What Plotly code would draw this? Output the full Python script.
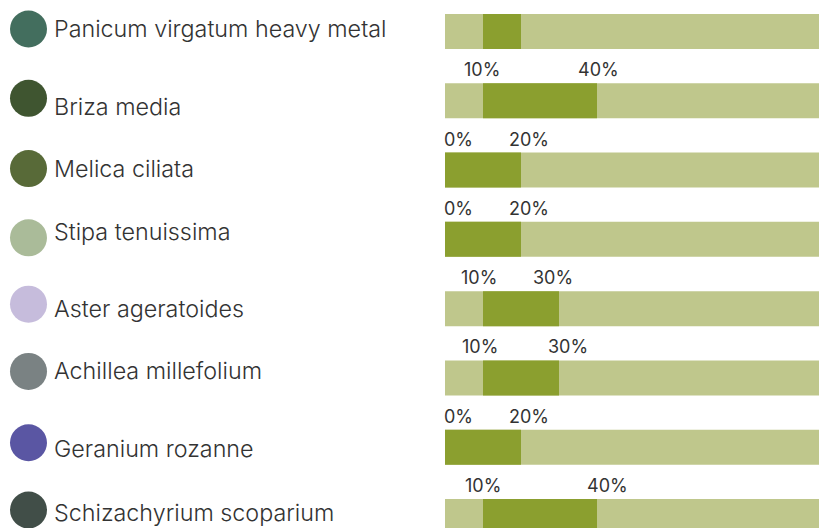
import plotly.graph_objects as go

# ---- data ----
plants = ["Panicum virgatum heavy metal", "Briza media", "Melica ciliata",
          "Stipa tenuissima", "Aster ageratoides", "Achillea millefolium",
          "Geranium rozanne", "Schizachyrium scoparium"]
range_start = [10, 10, 0, 0, 10, 10, 0, 10]
range_end = [20, 40, 20, 20, 30, 30, 20, 40]
start_labels = ["10%", "10%", "0%", "0%", "10%", "10%", "0%", "10%"]
end_labels = ["20%", "40%", "20%", "20%", "30%", "30%", "20%", "40%"]
show_labels = [False, True, True, True, True, True, True, True]
track_max = 100
plant_colors = ["#436E5E", "#3F5530", "#586A38", "#AABB99",
                "#C6BCDC", "#7A8283", "#5A56A3", "#414E48"]

# ---- style ----
W, H = 819, 528
LIGHT = "#BFC78C"
DARK = "#8B9F2F"
TEXT = "#333333"
FONT = "Inter"
n = len(plants)
idx = list(range(n))
row_px = 69.29
first_px = 31.5
y_range = [(H - first_px) / row_px, -first_px / row_px]
bar_x0 = 445
px_per_pct = 3.8
# small per-row pixel nudges seen in the original layout
circle_dy = [-2.5, -2.5, -1.5, -1.5, -4.5, -6.5, -4.5, -6.5]
name_dy = [-2.5, 6.5, -1.5, -7.5, 0.5, -6.5, 1.5, -3.5]
start_dx = [0, -0.5, -3, -3, -3.5, -3, -3, 0]
end_dx = [0, 1, 8, 8, -6, 9, 8, 10]

fig = go.Figure()
# track bars
fig.add_trace(go.Bar(y=idx, x=[track_max] * n, orientation="h",
                     marker=dict(color=LIGHT, line=dict(width=0)),
                     width=35 / row_px, hoverinfo="skip", showlegend=False))
# range segments
fig.add_trace(go.Bar(y=idx, x=[e - s for s, e in zip(range_start, range_end)],
                     base=range_start, orientation="h",
                     marker=dict(color=DARK, line=dict(width=0)),
                     width=35 / row_px, hoverinfo="skip", showlegend=False))
# legend circles
fig.add_trace(go.Scatter(x=[28.5] * n, y=[i + d / row_px for i, d in zip(idx, circle_dy)],
                         mode="markers", xaxis="x2", yaxis="y",
                         marker=dict(size=37, color=plant_colors, line=dict(width=0)),
                         hoverinfo="skip", showlegend=False))

annotations = []
for i, name in enumerate(plants):
    annotations.append(dict(x=52, y=i, xref="x2", yref="y", text=name,
                            showarrow=False, xanchor="left", yanchor="middle",
                            yshift=0.5 - name_dy[i],
                            font=dict(family=FONT, size=23.3, color=TEXT, weight=300)))
    if show_labels[i]:
        for val, lab, dx in ((range_start[i], start_labels[i], start_dx[i]),
                             (range_end[i], end_labels[i], end_dx[i])):
            annotations.append(dict(x=val, y=i, xref="x", yref="y", text=lab,
                                    showarrow=False,
                                    xanchor="left" if val == 0 else "center",
                                    yanchor="middle", yshift=31, xshift=dx,
                                    font=dict(family=FONT, size=18, color=TEXT)))

fig.update_layout(
    width=W, height=H, margin=dict(l=0, r=0, t=0, b=0),
    paper_bgcolor="white", plot_bgcolor="white",
    barmode="overlay", showlegend=False,
    xaxis=dict(domain=[bar_x0 / W, 1], range=[0, (W - bar_x0) / px_per_pct],
               visible=False, fixedrange=True),
    xaxis2=dict(domain=[0, bar_x0 / W], range=[0, bar_x0], visible=False,
                anchor="y", fixedrange=True),
    yaxis=dict(range=y_range, visible=False, fixedrange=True),
    annotations=annotations,
)

page_fix = ("document.documentElement.style.overflow='hidden';"
            "document.body.style.margin='0';"
            "document.body.style.overflow='hidden';")
fig.write_html("out.html", post_script=page_fix, config={"displayModeBar": False})
